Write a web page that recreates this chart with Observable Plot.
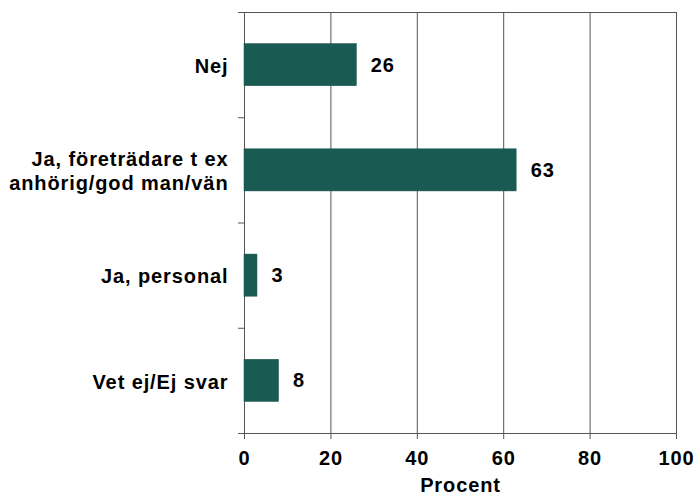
<!DOCTYPE html>
<html>
<head>
<meta charset="utf-8">
<script src="https://cdn.jsdelivr.net/npm/d3@7"></script>
<script src="https://cdn.jsdelivr.net/npm/@observablehq/plot@0.6"></script>
<style>
body { margin: 0; background: #fff; }
svg { font-family: "Liberation Sans", Arial, sans-serif; }
</style>
</head>
<body>
<div id="chart"></div>
<script>
const categories = ["Nej", "Ja, företrädare t ex\nanhörig/god man/vän", "Ja, personal", "Vet ej/Ej svar"];
const values = [26, 63, 3, 8];
const xTicks = [0, 20, 40, 60, 80, 100];
const gridTicks = [20, 40, 60, 80, 100];

const data = categories.map((c, i) => ({cat: c, value: values[i], i}));
const bounds = d3.range(categories.length + 1);

const FS = 20;
const chart = Plot.plot({
  width: 696,
  height: 497,
  marginLeft: 244,
  marginRight: 20,
  marginTop: 12,
  marginBottom: 64,
  style: {fontFamily: "Liberation Sans, Arial, sans-serif", fontSize: FS + "px", fontWeight: "bold", color: "#000", letterSpacing: "0.9px"},
  x: {domain: [0, 100], ticks: xTicks},
  y: {domain: [categories.length, 0]},
  marks: [
    Plot.ruleX(gridTicks, {stroke: "#555", strokeWidth: 1, strokeOpacity: 1}),
    Plot.frame({stroke: "#555", strokeOpacity: 1}),
    Plot.rectX(data, {x1: 0, x2: "value", y1: d => d.i + 0.3, y2: d => d.i + 0.7, fill: "#195b53", stroke: "#164f48", strokeWidth: 0.5}),
    Plot.text(data, {x: "value", y: d => d.i + 0.5, text: d => String(d.value), textAnchor: "start", dx: 14, fontSize: FS, fontWeight: "bold", fill: "#000"}),
    Plot.text(data, {x: 0, y: d => d.i + 0.5, text: "cat", textAnchor: "end", dx: -16, fontSize: FS, fontWeight: "bold", fill: "#000", lineHeight: 1.2}),
    Plot.axisY({ticks: bounds, tickSize: 6, tickFormat: () => "", stroke: "#555", label: null}),
    Plot.axisX({ticks: xTicks, tickSize: 6, tickPadding: 11, stroke: "#555", fontSize: FS, fontWeight: "bold", label: null}),
    Plot.text(["Procent"], {frameAnchor: "bottom", dy: 58, fontSize: FS, fontWeight: "bold", fill: "#000"})
  ]
});
document.getElementById("chart").appendChild(chart);
</script>
</body>
</html>
